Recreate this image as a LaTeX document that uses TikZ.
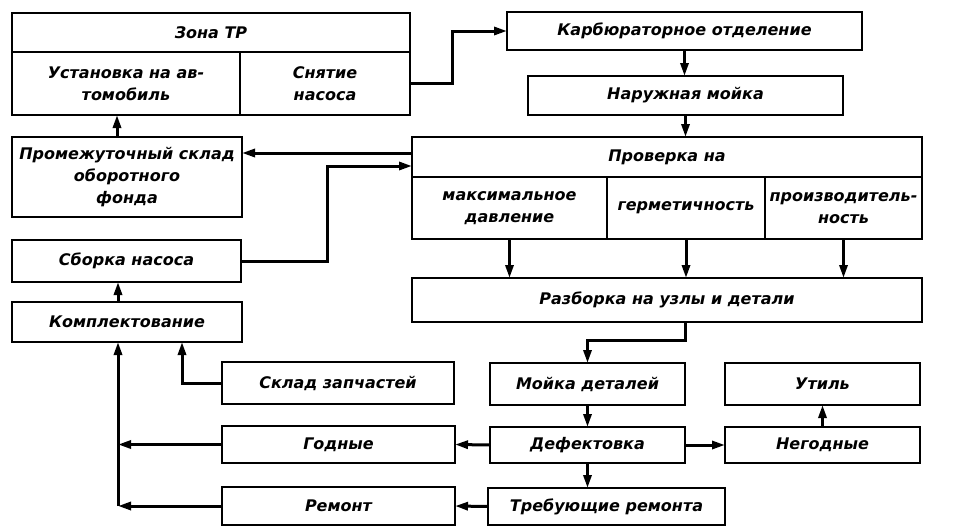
\documentclass[tikz,border=0pt]{standalone}
\usepackage{fontspec}
\newfontfamily\gostfont{DejaVu Sans}
\usetikzlibrary{arrows.meta}
\begin{document}
\begin{tikzpicture}[x=1pt,y=-1pt,
  blk/.style={draw, line width=2pt, anchor=north west, inner sep=0pt, outer sep=0pt,
    align=center, font=\gostfont\bfseries\itshape\fontsize{16}{22}\selectfont},
  arr/.style={line width=3pt, -{Triangle[length=13pt,width=8pt]}}]
\useasboundingbox (0,0) rectangle (959,528);

% left column
\node[blk, minimum width=398pt, minimum height=39pt] (zona) at (12,13) {Зона ТР};
\node[blk, minimum width=228pt, minimum height=63pt] (ustan) at (12,52) {Установка на ав-\\томобиль};
\node[blk, minimum width=170pt, minimum height=63pt] (snyat) at (240,52) {Снятие\\насоса};
\node[blk, minimum width=230pt, minimum height=80pt] (promezh) at (12,137) {Промежуточный склад\\оборотного\\фонда};
\node[blk, minimum width=229pt, minimum height=42pt] (sborka) at (12,240) {Сборка насоса};
\node[blk, minimum width=230pt, minimum height=40pt] (kompl) at (12,302) {Комплектование};
\node[blk, minimum width=232pt, minimum height=42pt] (sklad) at (222,362) {Склад запчастей};
\node[blk, minimum width=233pt, minimum height=37pt] (godnye) at (222,426) {Годные};
\node[blk, minimum width=233pt, minimum height=38pt] (remont) at (222,487) {Ремонт};

% right column
\node[blk, minimum width=355pt, minimum height=38pt] (karb) at (507,12) {Карбюраторное отделение};
\node[blk, minimum width=315pt, minimum height=39pt] (naruzh) at (528,76) {Наружная мойка};
\node[blk, minimum width=510pt, minimum height=40pt] (proverka) at (412,137) {Проверка на};
\node[blk, minimum width=195pt, minimum height=62pt] (maks) at (412,177) {максимальное\\давление};
\node[blk, minimum width=158pt, minimum height=62pt] (germ) at (607,177) {герметичность};
\node[blk, minimum width=157pt, minimum height=62pt] (proizv) at (765,177) {производитель-\\ность};
\node[blk, minimum width=510pt, minimum height=44pt] (razborka) at (412,278) {Разборка на узлы и детали};
\node[blk, minimum width=195pt, minimum height=42pt] (moika) at (490,363) {Мойка деталей};
\node[blk, minimum width=195pt, minimum height=42pt] (util) at (725,363) {Утиль};
\node[blk, minimum width=195pt, minimum height=36pt] (defekt) at (490,427) {Дефектовка};
\node[blk, minimum width=195pt, minimum height=36pt] (negodn) at (725,427) {Негодные};
\node[blk, minimum width=237pt, minimum height=37pt] (treb) at (488,488) {Требующие ремонта};

% connectors
\draw[arr] (snyat.east) -- ++(42,0) |- (karb.west);
\draw[arr] (karb.south) -- (karb.south |- naruzh.north);
\draw[arr] (naruzh.south) -- (naruzh.south |- proverka.north);
\coordinate (pl) at ([yshift=4pt]proverka.west);
\draw[arr] (pl) -- (pl -| promezh.east);
\draw[arr] (sborka.east) -- ++(86,0) |- ([yshift=-9pt]proverka.west);
\draw[arr] ([xshift=-10pt]promezh.north) -- ([xshift=-10pt]promezh.north |- ustan.south);
\draw[arr] ([xshift=-9pt]kompl.north) -- ([xshift=-9pt]kompl.north |- sborka.south);
\draw[arr] (sklad.west) -| ([xshift=55pt]kompl.south);

\coordinate (col) at (118,0);
\draw[arr] (col |- remont.west) -- (col |- kompl.south);
\draw[arr] (godnye.west) -- (col |- godnye.west);
\draw[arr] (remont.west) -- (col |- remont.west);

\draw[arr] (maks.south) -- (maks.south |- razborka.north);
\draw[arr] (germ.south) -- (germ.south |- razborka.north);
\draw[arr] (proizv.south) -- (proizv.south |- razborka.north);
\draw[arr] ([xshift=18pt]razborka.south) -- ++(0,18) -| (moika.north);
\draw[arr] (moika.south) -- (defekt.north);
\draw[arr] (defekt.south) -- (defekt.south |- treb.north);
\draw[arr] (defekt.east) -- (negodn.west);
\draw[arr] (negodn.north) -- (util.south);
\draw[arr] (defekt.west) -- (godnye.east);
\draw[arr] (treb.west) -- (remont.east);

\end{tikzpicture}
\end{document}
